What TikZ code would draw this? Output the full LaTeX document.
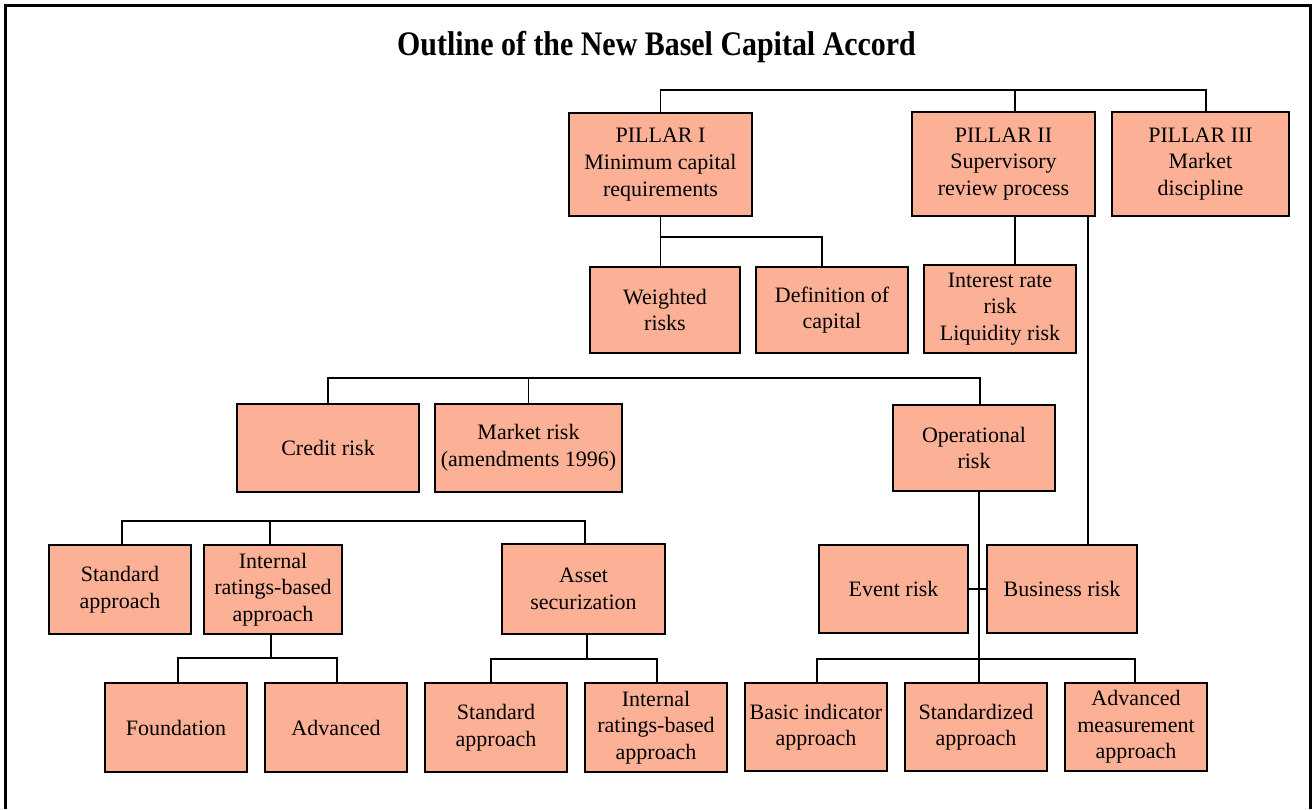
\documentclass[tikz,border=0pt]{standalone}
\usepackage{fontspec}
\setmainfont{Liberation Serif}
\usepackage{graphicx}
\definecolor{salmonfill}{RGB}{252,177,150}
\newcommand{\mybox}[6]{%
  \node[orgbox, minimum width={(#4-#2)*0.5pt}, minimum height={(#5-#3)*0.5pt}] (#1) at ({(#2+#4)/2},{(#3+#5)/2}) {#6};}
\begin{document}
\begin{tikzpicture}[x=0.5pt,y=-0.5pt,
  orgbox/.style={draw=black, line width=1pt, fill=salmonfill, align=center, inner sep=0pt, text=black, font=\fontsize{11}{13.3}\selectfont},
  link/.style={draw=black, line width=0.75pt}]
\useasboundingbox (0,0) rectangle (1312,809);
% outer frame
\draw[line width=1.5pt] (5.5,809) -- (5.5,5.5) -- (1310,5.5) -- (1310,809);
% title
\node[anchor=base] (title) at (656.5,55) {\scalebox{0.87}[1]{\fontsize{17.2}{20}\selectfont\bfseries Outline of the New Basel Capital Accord}};
% boxes
\mybox{p1}{569}{113}{752}{216}{PILLAR I\\Minimum capital\\requirements}
\mybox{p2}{912}{112}{1095}{216}{PILLAR II\\Supervisory\\review process}
\mybox{p3}{1112}{112}{1289}{216}{PILLAR III\\Market\\discipline}
\mybox{wr}{590}{267}{740}{353}{Weighted\\risks}
\mybox{dc}{756}{267}{908}{353}{Definition of\\capital}
\mybox{ir}{924}{265}{1076}{353}{Interest rate\\risk\\Liquidity risk}
\mybox{cr}{237}{404}{419}{492}{Credit risk}
\mybox{mr}{435}{404}{622}{492}{Market risk\\(amendments 1996)}
\mybox{opr}{893}{405}{1055}{491}{Operational\\risk}
\mybox{sa}{49}{545}{191}{634}{Standard\\approach}
\mybox{irb}{204}{545}{342}{634}{Internal\\ratings-based\\approach}
\mybox{as}{502}{544}{665}{634}{Asset\\securization}
\mybox{ev}{819}{545}{968}{633}{Event risk}
\mybox{br}{987}{545}{1137}{633}{Business risk}
\mybox{fo}{105}{683}{247}{772}{Foundation}
\mybox{ad}{265}{683}{407}{772}{Advanced}
\mybox{sab}{425}{683}{567}{772}{Standard\\approach}
\mybox{irbb}{585}{683}{727}{772}{Internal\\ratings-based\\approach}
\mybox{bi}{745}{683}{887}{771}{Basic indicator\\approach}
\mybox{sd}{905}{683}{1047}{771}{Standardized\\approach}
\mybox{am}{1065}{683}{1207}{771}{Advanced\\measurement\\approach}
% helper coordinates
\coordinate (t2) at (1015,90);
\coordinate (t3) at (1206,90);
\coordinate (j1) at (822,237);
\coordinate (lv) at (1088,300);
\coordinate (k3) at (980,378);
\coordinate (m1) at (122,521);
\coordinate (m2) at (270,521);
\coordinate (m3) at (585,521);
\coordinate (n0) at (271,658);
\coordinate (n1) at (178,658);
\coordinate (n2) at (337,658);
\coordinate (o0) at (587,659);
\coordinate (o1) at (491,659);
\coordinate (o2) at (657,659);
\coordinate (r0) at (979,659);
\coordinate (r1) at (817,659);
\coordinate (r2) at (1135,659);
% connectors
\draw[link] (p1.north) |- (t3) -- (p3.north -| t3);
\draw[link] (t2) -- (p2.north -| t2);
\draw[link] (p1.south) |- (j1) -- (dc.north -| j1);
\draw[link] (p1.south) -- (wr.north -| p1.south);
\draw[link] (p2.south -| t2) -- (ir.north -| t2);
\draw[link] (p2.south -| lv) -- (br.north -| lv);
\draw[link] (cr.north) |- (k3) -- (opr.north -| k3);
\draw[link] (mr.north) -- (mr.north |- k3);
\draw[link] (sa.north -| m1) |- (m3) -- (as.north -| m3);
\draw[link] (m2) -- (irb.north -| m2);
\draw[link] (irb.south -| n0) -- (n0);
\draw[link] (fo.north -| n1) |- (n2) -- (ad.north -| n2);
\draw[link] (as.south -| o0) -- (o0);
\draw[link] (sab.north -| o1) |- (o2) -- (irbb.north -| o2);
\draw[link] (opr.south -| r0) -- (r0) -- (sd.north -| r0);
\draw[link] (bi.north -| r1) |- (r2) -- (am.north -| r2);
\draw[link] (ev.east) -- (br.west);
\end{tikzpicture}
\end{document}
